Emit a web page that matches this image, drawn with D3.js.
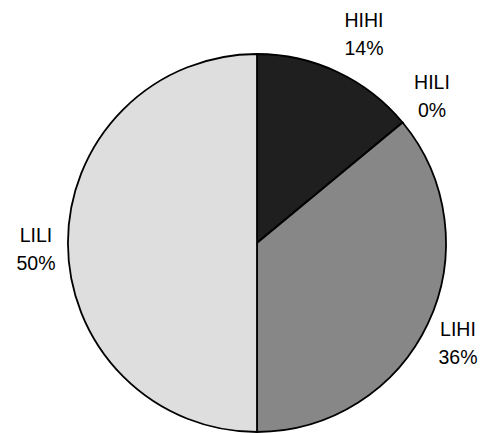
<html>
<head>
<style>
  body { margin: 0; background: #fff; }
  .lbl { font-family: "Liberation Sans", Arial, sans-serif; font-size: 19.5px; fill: #000; }
</style>
<script src="https://d3js.org/d3.v7.min.js"></script>
</head>
<body>
<svg width="484" height="433"></svg>
<script>
const categories = ["HIHI", "HILI", "LIHI", "LILI"];
const values = [14, 0, 36, 50];
const percentLabels = ["14%", "0%", "36%", "50%"];
const colors = ["#1f1f1f", "#ffffff", "#878787", "#dedede"];
// baseline of the first label line
const labelPos = [[364, 27], [432, 89], [458, 336], [36, 242]];

const cx = 257, cy = 243, r = 189;
const svg = d3.select("svg");
const g = svg.append("g").attr("transform", "translate(" + cx + "," + cy + ")");

const pie = d3.pie().sort(null).value(d => d);
const arc = d3.arc().innerRadius(0).outerRadius(r);

g.selectAll("path")
  .data(pie(values))
  .enter()
  .append("path")
  .attr("d", arc)
  .style("fill", (d, i) => colors[i])
  .style("stroke", "#000")
  .style("stroke-width", 1.8)
  .style("stroke-linejoin", "round");

const lab = svg.append("g").selectAll("text")
  .data(categories)
  .enter()
  .append("text")
  .attr("class", "lbl")
  .attr("text-anchor", "middle")
  .attr("x", (d, i) => labelPos[i][0])
  .attr("y", (d, i) => labelPos[i][1]);

lab.append("tspan")
  .attr("x", (d, i) => labelPos[i][0])
  .text(d => d);
lab.append("tspan")
  .attr("x", (d, i) => labelPos[i][0])
  .attr("dy", 27.5)
  .text((d, i) => percentLabels[i]);
</script>
</body>
</html>
